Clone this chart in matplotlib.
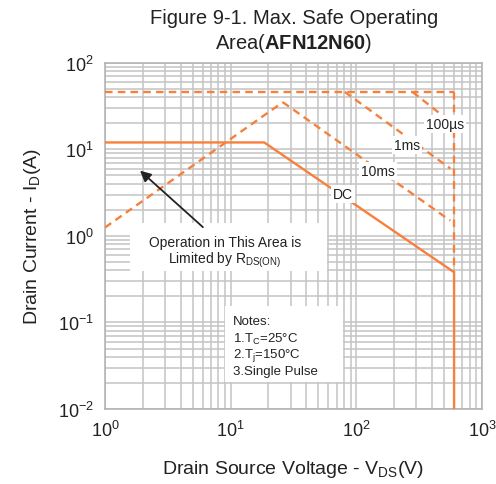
import matplotlib
matplotlib.use("Agg")
import matplotlib.pyplot as plt
from matplotlib.patches import Rectangle
from matplotlib.ticker import LogLocator, LogFormatterSciNotation

plt.rcParams['font.family'] = ['Liberation Sans', 'DejaVu Sans']
plt.rcParams['mathtext.fontset'] = 'custom'
plt.rcParams['mathtext.rm'] = 'Liberation Sans'
plt.rcParams['mathtext.it'] = 'Liberation Sans:italic'
plt.rcParams['mathtext.bf'] = 'Liberation Sans:bold'

# SOA boundary data (V, A)
rds_v = [1, 26]
rds_i = [1.25, 35]
limit_v = [1, 600]
limit_i = [46, 46]
ms10_v = [26, 560]
ms10_i = [35, 1.5]
ms1_v = [81, 560]
ms1_i = [46, 6.0]
us100_v = [280, 580]
us100_i = [46, 20]
dc_v = [1, 18.5, 600, 600]
dc_i = [12, 12, 0.38, 0.01]
vmax_v = [600, 600]
vmax_i = [46, 0.38]

orange = '#f7803a'
grid_c = '#c4c4c4'
txt_c = '#222222'

fig = plt.figure(figsize=(4.96, 4.85), dpi=100)
ax = fig.add_axes([0.2117, 0.1546, 0.76, 0.714])
ax.set_xscale('log')
ax.set_yscale('log')
ax.set_xlim(1, 1000)
ax.set_ylim(0.01, 100)

ax.xaxis.set_major_locator(LogLocator(base=10))
ax.yaxis.set_major_locator(LogLocator(base=10))
ax.xaxis.set_minor_locator(LogLocator(base=10, subs=range(2, 10)))
ax.yaxis.set_minor_locator(LogLocator(base=10, subs=range(2, 10)))
ax.xaxis.set_major_formatter(LogFormatterSciNotation())
ax.yaxis.set_major_formatter(LogFormatterSciNotation())
ax.xaxis.set_minor_formatter(plt.NullFormatter())
ax.yaxis.set_minor_formatter(plt.NullFormatter())
ax.tick_params(which='both', length=0, labelsize=13, colors=txt_c, pad=8)
ax.grid(True, which='both', color=grid_c, linewidth=1.1)
ax.set_axisbelow(True)
for s in ax.spines.values():
    s.set_color('#b0b0b0')
    s.set_linewidth(1.1)

# white boxes behind annotations
ax.add_patch(Rectangle((0.066, 0.398), 0.522, 0.138, transform=ax.transAxes,
                       facecolor='white', edgecolor='none', zorder=1.5))
ax.add_patch(Rectangle((0.318, 0.078), 0.313, 0.219, transform=ax.transAxes,
                       facecolor='white', edgecolor='none', zorder=1.5))

dash = dict(color=orange, linewidth=1.7, linestyle=(0, (3.2, 2.2)), zorder=3)
ax.plot(rds_v, rds_i, **dash)
ax.plot(limit_v, limit_i, **dash)
ax.plot(ms10_v, ms10_i, **dash)
ax.plot(ms1_v, ms1_i, **dash)
ax.plot(us100_v, us100_i, **dash)
ax.plot(vmax_v, vmax_i, **dash)
ax.plot(dc_v, dc_i, color=orange, linewidth=1.7, zorder=3)

lbl = dict(fontsize=10, color=txt_c, ha='center', va='center', zorder=4,
           bbox=dict(facecolor='white', edgecolor='none', pad=1.5))
ax.text(507, 19.7, '100µs', **lbl)
ax.text(253, 11.3, '1ms', **lbl)
ax.text(149, 5.64, '10ms', **lbl)
ax.text(78, 3.06, 'DC', **lbl)

ax.text(9.0, 0.85, 'Operation in This Area is', fontsize=10, color=txt_c,
        ha='center', va='center', zorder=4)
ax.text(9.0, 0.54, r'Limited by R$_{\mathrm{DS(ON)}}$', fontsize=10, color=txt_c,
        ha='center', va='center', zorder=4)
ax.annotate('', xy=(1.83, 5.95), xytext=(6.25, 1.2),
            arrowprops=dict(arrowstyle='-|>', color='#222222', lw=1.3,
                            mutation_scale=16), zorder=4)

notes = ['Notes:', r'1.T$_\mathrm{C}$=25°C', r'2.T$_\mathrm{j}$=150°C', '3.Single Pulse']
notes_y = [0.104, 0.066, 0.0423, 0.0274]
for t, y in zip(notes, notes_y):
    ax.text(10.4, y, t, fontsize=9.5, color=txt_c, ha='left', va='center', zorder=4)

ax.set_xlabel(r'Drain Source Voltage - V$_{\mathrm{DS}}$(V)', fontsize=14,
              color=txt_c, labelpad=13)
ax.set_ylabel(r'Drain Current - I$_{\mathrm{D}}$(A)', fontsize=14,
              color=txt_c, labelpad=11)

fig.text(0.592, 0.962, 'Figure 9-1. Max. Safe Operating', fontsize=14.5,
         color=txt_c, ha='center', va='center')
fig.text(0.592, 0.911, r'Area($\mathbf{AFN12N60}$)', fontsize=14.5,
         color=txt_c, ha='center', va='center')

fig.savefig('out.png', dpi=100)
